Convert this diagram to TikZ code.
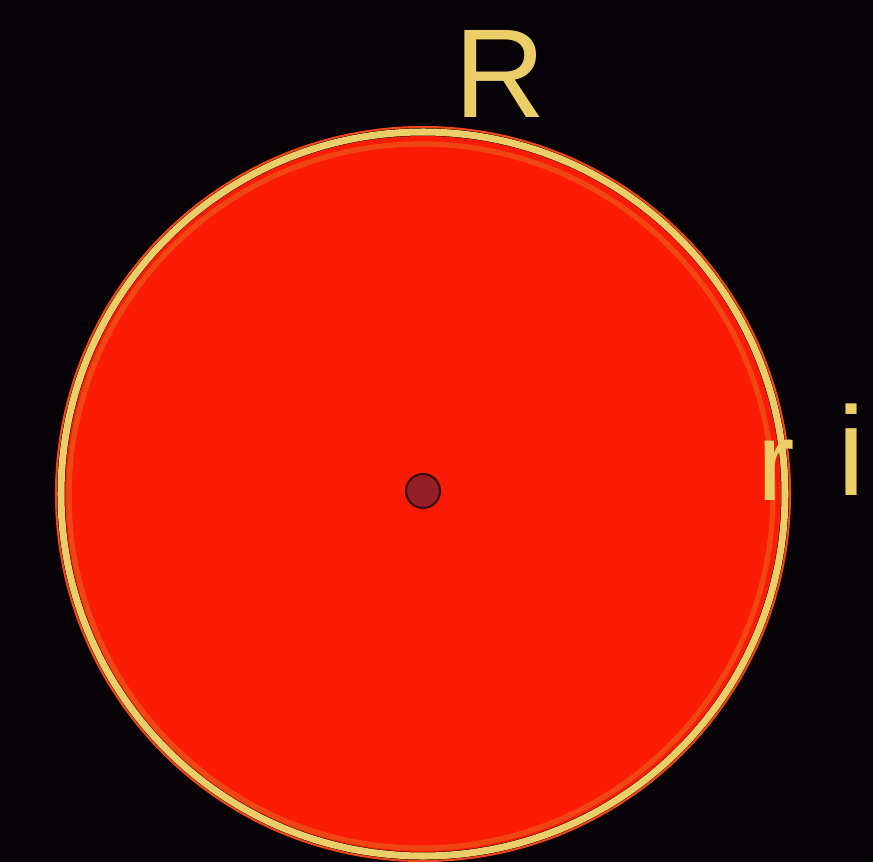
\documentclass[tikz,border=0pt]{standalone}
\usepackage{fontspec}
\setmainfont{Liberation Sans}
\usetikzlibrary{positioning}

\definecolor{bgblack}{RGB}{6,2,6}
\definecolor{discred}{RGB}{252,28,6}
\definecolor{chalkyellow}{RGB}{236,206,104}
\definecolor{rimorange}{RGB}{240,70,20}
\definecolor{dotred}{RGB}{150,30,40}

\tikzset{
  chalk/.style={text=chalkyellow, inner sep=0pt, font=\fontsize{72}{80}\selectfont},
}

\begin{document}
\begin{tikzpicture}[x=0.02cm, y=-0.02cm]

% Background
\fill[bgblack] (0,0) rectangle (873,862);
\useasboundingbox (0,0) rectangle (873,862);

% Red disc
\fill[discred] (423,494) circle[radius=358];

% Rim: yellow chalk line with an orange edge
\draw[rimorange, line width=3pt] (421,496) circle[radius=352];
\draw[chalkyellow, line width=4pt] (423,494) circle[radius=362];
\draw[rimorange, line width=1.2pt] (423,494) circle[radius=367];

% Centre point
\fill[dotred] (423,491) circle[radius=17];
\draw[black!60!dotred, line width=1.2pt] (423,491) circle[radius=17];

% Labels
\node[chalk] (labelR) at (500,74) {R};
\node[chalk, font=\fontsize{64}{70}\selectfont] (labelr) at (776,470) {r};
\node[chalk] (labeli) at (852,450) {i};

\end{tikzpicture}
\end{document}
